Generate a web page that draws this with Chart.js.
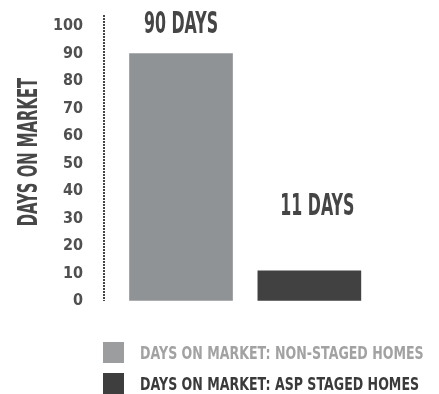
<!DOCTYPE html>
<html>
<head>
<meta charset="utf-8">
<script src="https://cdn.jsdelivr.net/npm/chart.js@4/dist/chart.umd.min.js"></script>
<style>
  body { margin: 0; background: #fff; }
  canvas { display: block; }
</style>
</head>
<body>
<canvas id="myChart" width="439" height="394"></canvas>
<script>
// chart data
const categories = ['DAYS ON MARKET: NON-STAGED HOMES', 'DAYS ON MARKET: ASP STAGED HOMES'];
const daysValues = [90, 11];
const barLabels = ['90 DAYS', '11 DAYS'];
const yTicks = [0, 10, 20, 30, 40, 50, 60, 70, 80, 90, 100];
const axisTitle = 'DAYS ON MARKET';

// styles
const barColors = ['#909395', '#414141'];
const boxColors = ['#9b9d9f', '#3e3e3e'];
const legendTextColors = ['#a2a2a2', '#3a3a3a'];
const labelShift = [{dx: 0, dy: 21}, {dx: 8, dy: 56}];
const xMin = -0.6, xMax = 1.94;

// draws text squeezed horizontally so it looks like a condensed poster font
function narrowText(ctx, text, x, y, size, sx, color, align, baseline) {
    ctx.save();
    ctx.translate(x, y);
    ctx.scale(sx, 1);
    ctx.font = 'bold ' + size + 'px "DejaVu Sans"';
    ctx.fillStyle = color;
    ctx.textAlign = align || 'left';
    ctx.textBaseline = baseline || 'alphabetic';
    ctx.fillText(text, 0, 0);
    ctx.restore();
}

const posterText = {
    id: 'posterText',
    afterDatasetsDraw(chart) {
        const ctx = chart.ctx;
        const area = chart.chartArea;

        // value labels above the bars
        chart.data.datasets.forEach((ds, i) => {
            const bar = chart.getDatasetMeta(i).data[0];
            narrowText(ctx, barLabels[i], bar.x + labelShift[i].dx, bar.y - labelShift[i].dy,
                31, 0.51, '#454545', 'center');
        });

        // rotated axis title
        ctx.save();
        ctx.translate(30, (area.top + area.bottom) / 2 - 6);
        ctx.rotate(-Math.PI / 2);
        narrowText(ctx, axisTitle, 0, 0, 26, 0.57, '#474747', 'center', 'middle');
        ctx.restore();

        // legend
        chart.data.datasets.forEach((ds, i) => {
            const boxX = area.left - 1;
            const boxY = area.bottom + 41 + i * 31;
            ctx.fillStyle = boxColors[i];
            ctx.fillRect(boxX, boxY, 21, 21);
            narrowText(ctx, categories[i], boxX + 37, boxY + 17, 18, 0.70, legendTextColors[i], 'left');
        });
    }
};

const datasets = categories.map((name, i) => ({
    label: name,
    data: [{x: i, y: daysValues[i]}],
    backgroundColor: barColors[i],
    borderWidth: 0
}));

const ctx = document.getElementById('myChart').getContext('2d');
const myChart = new Chart(ctx, {
    type: 'bar',
    data: { datasets: datasets },
    options: {
        responsive: false,
        animation: false,
        layout: { padding: { top: 15, right: 9, bottom: 93, left: 0 } },
        datasets: { bar: { grouped: false, barThickness: 103 } },
        plugins: {
            legend: { display: false },
            tooltip: { enabled: false }
        },
        scales: {
            // only one vertical grid line is kept: the dotted line at the left edge
            x: {
                type: 'linear', min: xMin, max: xMax, offset: false,
                afterBuildTicks: (scale) => { scale.ticks = [{ value: xMin }]; },
                ticks: { display: false },
                grid: { offset: false, drawTicks: false, color: '#444', lineWidth: 2 },
                border: { display: false, dash: [2, 1] }
            },
            y: {
                min: 0,
                max: 104,
                afterBuildTicks: (scale) => { scale.ticks = yTicks.map(v => ({ value: v })); },
                afterFit: (scale) => {
                    scale.width = 104;
                    scale.paddingTop = 0;
                    scale.paddingBottom = 0;
                },
                grid: { drawOnChartArea: false, drawTicks: false },
                border: { display: false },
                ticks: {
                    padding: 21,
                    color: '#505050',
                    font: { family: '"DejaVu Sans Condensed"', weight: 'bold', size: 16 }
                }
            }
        }
    },
    plugins: [posterText]
});
</script>
</body>
</html>
